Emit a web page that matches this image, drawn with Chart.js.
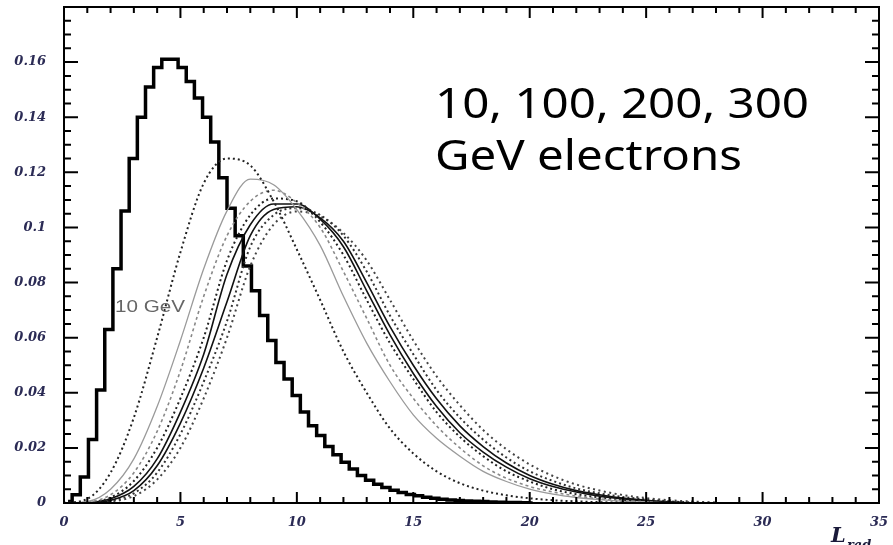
<!DOCTYPE html>
<html>
<head>
<meta charset="utf-8">
<script src="https://cdn.jsdelivr.net/npm/chart.js@4.4.0/dist/chart.umd.min.js"></script>
<style>
  html, body { margin: 0; padding: 0; background: #fff; }
  #wrap { width: 893px; height: 545px; }
</style>
</head>
<body>
<div id="wrap"><canvas id="chart" width="893" height="545"></canvas></div>
<script>
// x positions (radiation lengths) for the smooth curves
const depth = [0, 1, 2, 3, 4, 5, 6, 7, 8, 9, 10, 11, 12, 13, 14, 15, 16, 17, 18, 19, 20, 21, 22, 23, 24, 25, 26, 27, 28];

// 8 smooth profiles (left-most peak first)
const shower1 = [0, 0.0015, 0.011, 0.031, 0.060, 0.091, 0.116, 0.125, 0.1225, 0.1095, 0.092, 0.0737, 0.055, 0.040, 0.027, 0.018, 0.0115, 0.0072, 0.0045, 0.0028, 0.0017, 0.001, 0.0006, 0.0003, 0.0001, 0, 0, 0, 0];
const shower2 = [0, 0.0005, 0.005, 0.016, 0.035, 0.059, 0.085, 0.106, 0.1175, 0.1155, 0.1065, 0.0935, 0.075, 0.058, 0.044, 0.032, 0.0235, 0.017, 0.0115, 0.0078, 0.005, 0.0032, 0.002, 0.0012, 0.0006, 0.0003, 0, 0, 0];
const shower3 = [0, 0.0003, 0.003, 0.011, 0.026, 0.048, 0.075, 0.097, 0.1095, 0.1135, 0.109, 0.100, 0.084, 0.067, 0.050, 0.038, 0.028, 0.020, 0.0135, 0.009, 0.006, 0.004, 0.0025, 0.0015, 0.0008, 0.0004, 0, 0, 0];
const shower4 = [0, 0.0002, 0.002, 0.008, 0.020, 0.038, 0.060, 0.088, 0.1045, 0.1105, 0.1095, 0.102, 0.090, 0.0737, 0.058, 0.045, 0.033, 0.024, 0.017, 0.0115, 0.0078, 0.005, 0.0032, 0.002, 0.0011, 0.0005, 0.0002, 0, 0];
const shower5 = [0, 0.0001, 0.0015, 0.006, 0.016, 0.033, 0.054, 0.083, 0.101, 0.1085, 0.1085, 0.103, 0.093, 0.077, 0.061, 0.047, 0.035, 0.0255, 0.0185, 0.013, 0.0088, 0.006, 0.004, 0.0025, 0.0015, 0.0008, 0.0003, 0, 0];
const shower6 = [0, 0, 0.001, 0.0045, 0.0135, 0.029, 0.049, 0.073, 0.097, 0.1065, 0.1075, 0.1035, 0.095, 0.080, 0.064, 0.050, 0.0378, 0.028, 0.0205, 0.0145, 0.010, 0.0068, 0.0045, 0.003, 0.0018, 0.001, 0.0004, 0, 0];
const shower7 = [0, 0, 0.0008, 0.0035, 0.011, 0.025, 0.044, 0.066, 0.093, 0.1045, 0.107, 0.1045, 0.097, 0.084, 0.068, 0.054, 0.041, 0.031, 0.023, 0.0165, 0.0115, 0.008, 0.0053, 0.0035, 0.0022, 0.0013, 0.0006, 0.0002, 0];
const shower8 = [0, 0, 0.0005, 0.0025, 0.0085, 0.020, 0.038, 0.060, 0.086, 0.101, 0.1058, 0.104, 0.098, 0.088, 0.0737, 0.059, 0.046, 0.0355, 0.0265, 0.0195, 0.014, 0.0098, 0.0067, 0.0045, 0.0029, 0.0018, 0.001, 0.0005, 0.0002];

// 10 GeV histogram, bins of 0.35 X0 starting at 0
const binWidth = 0.35;
const hist10 = [0.0005, 0.003, 0.0094, 0.023, 0.041, 0.063, 0.085, 0.106, 0.125, 0.140,
  0.151, 0.158, 0.161, 0.161, 0.158, 0.153, 0.147, 0.140, 0.131, 0.118,
  0.107, 0.097, 0.086, 0.077, 0.068, 0.059, 0.051, 0.045, 0.039, 0.033,
  0.028, 0.0245, 0.0205, 0.0175, 0.0148, 0.0123, 0.010, 0.0083, 0.0068, 0.0056,
  0.0046, 0.0038, 0.0031, 0.0026, 0.0021, 0.0017, 0.0014, 0.0011, 0.0009, 0.0007,
  0.0006, 0.0005, 0.0004, 0.0003, 0.0002, 0.0002, 0.0001, 0];

const xTicks = [0, 5, 10, 15, 20, 25, 30, 35];
const yTicks = [0, 0.02, 0.04, 0.06, 0.08, 0.1, 0.12, 0.14, 0.16];

const tickFont = { family: "'DejaVu Serif', serif", size: 13, style: 'italic', weight: 'bold' };
const tickColor = '#2b2b55';

function pts(ys) {
  return ys.map((v, i) => ({ x: depth[i], y: v }));
}

const styles = [
  { data: shower1, color: '#222', width: 2, dash: [2, 3] },
  { data: shower2, color: '#9a9a9a', width: 1.3, dash: [] },
  { data: shower3, color: '#888', width: 1.6, dash: [3, 3] },
  { data: shower4, color: '#222', width: 2, dash: [2, 3] },
  { data: shower5, color: '#111', width: 1.6, dash: [] },
  { data: shower6, color: '#111', width: 1.6, dash: [] },
  { data: shower7, color: '#333', width: 2, dash: [2, 3] },
  { data: shower8, color: '#444', width: 2, dash: [2, 3.5] }
];

const datasets = styles.map(s => ({
  data: pts(s.data),
  borderColor: s.color,
  borderWidth: s.width,
  borderDash: s.dash,
  pointRadius: 0,
  fill: false,
  cubicInterpolationMode: 'monotone'
}));

datasets.push({
  data: hist10.map((v, i) => ({ x: binWidth * (i + 0.5), y: v })),
  borderColor: '#000',
  borderWidth: 3.5,
  pointRadius: 0,
  fill: false,
  stepped: 'middle'
});

// frame with inward major/minor ticks on all four sides
const frameTicks = {
  id: 'frameTicks',
  afterDatasetsDraw(chart) {
    const { ctx, chartArea: a, scales: { x, y } } = chart;
    ctx.save();
    ctx.strokeStyle = '#000';
    ctx.lineWidth = 2;
    ctx.strokeRect(a.left, a.top, a.right - a.left, a.bottom - a.top);
    ctx.beginPath();
    for (let v = 0; v <= 35; v++) {
      const px = x.getPixelForValue(v);
      const len = v % 5 === 0 ? 11 : 6;
      ctx.moveTo(px, a.bottom); ctx.lineTo(px, a.bottom - len);
      ctx.moveTo(px, a.top); ctx.lineTo(px, a.top + len);
    }
    for (let i = 0; i <= 36; i++) {
      const py = y.getPixelForValue(i * 0.005);
      const len = i % 4 === 0 ? 14 : 7;
      ctx.moveTo(a.left, py); ctx.lineTo(a.left + len, py);
      ctx.moveTo(a.right, py); ctx.lineTo(a.right - len, py);
    }
    ctx.stroke();
    ctx.restore();
  },
  afterDraw(chart) {
    const { ctx } = chart;
    ctx.save();
    // big annotation, stretched to the width seen in the picture
    const fitText = (txt, left, base, width, font, color) => {
      ctx.font = font;
      ctx.fillStyle = color;
      const w = ctx.measureText(txt).width;
      ctx.save();
      ctx.translate(left, base);
      ctx.scale(width / w, 1);
      ctx.fillText(txt, 0, 0);
      ctx.restore();
    };
    ctx.textBaseline = 'alphabetic';
    fitText('10, 100, 200, 300', 435, 118, 374, "42px 'Comic Sans MS', 'Noto Sans', sans-serif", '#000');
    fitText('GeV electrons', 435, 170, 307, "42px 'Comic Sans MS', 'Noto Sans', sans-serif", '#000');
    fitText('10 GeV', 115, 312, 70, "16px 'Liberation Sans', Arial, sans-serif", '#666');
    // axis title L_rad
    ctx.fillStyle = '#1a1a3a';
    ctx.font = "bold italic 21px 'DejaVu Serif', serif";
    ctx.fillText('L', 831, 542);
    ctx.font = "bold italic 13px 'DejaVu Serif', serif";
    ctx.fillText('rad', 847, 549);
    ctx.restore();
  }
};

new Chart(document.getElementById('chart'), {
  type: 'line',
  data: { datasets: datasets },
  options: {
    responsive: false,
    animation: false,
    layout: { padding: { left: 0, right: 14, top: 7, bottom: 0 } },
    plugins: { legend: { display: false }, tooltip: { enabled: false } },
    scales: {
      x: {
        type: 'linear',
        min: 0,
        max: 35,
        grid: { display: false },
        border: { display: false },
        afterBuildTicks: s => { s.ticks = xTicks.map(v => ({ value: v })); },
        afterFit: s => { s.height = 42; s.paddingLeft = 0; s.paddingRight = 0; },
        ticks: {
          padding: 4,
          maxRotation: 0,
          color: tickColor,
          font: tickFont,
          callback: v => String(v)
        }
      },
      y: {
        min: 0,
        max: 0.18,
        grid: { display: false },
        border: { display: false },
        afterBuildTicks: s => { s.ticks = yTicks.map(v => ({ value: v })); },
        afterFit: s => { s.width = 64; s.paddingTop = 0; s.paddingBottom = 0; },
        ticks: {
          padding: 10,
          color: tickColor,
          font: tickFont,
          callback: v => String(Number(v.toFixed(2)))
        }
      }
    }
  },
  plugins: [frameTicks]
});
</script>
</body>
</html>
